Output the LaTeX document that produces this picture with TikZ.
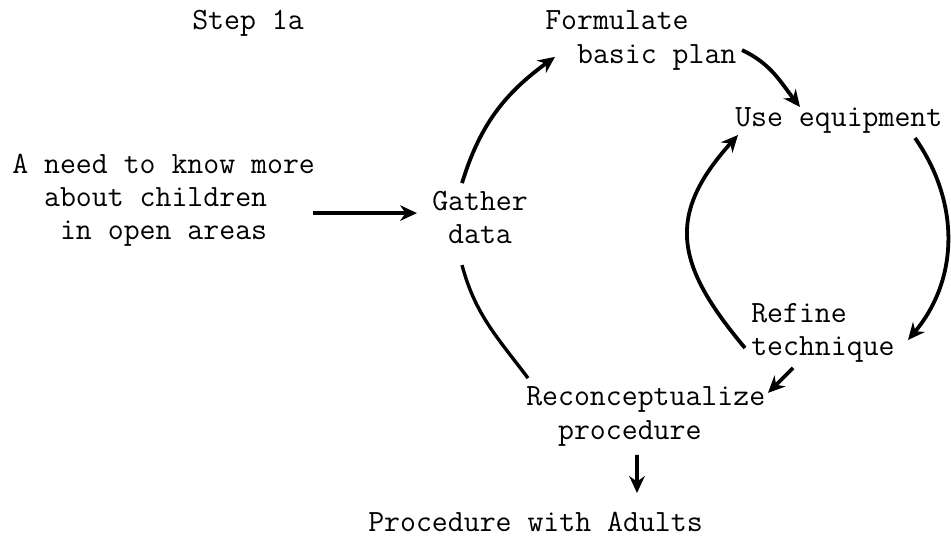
\documentclass[tikz,border=0pt]{standalone}
\usetikzlibrary{arrows.meta}
\tikzset{
  txt/.style={anchor=west, inner sep=0pt, align=left, font=\ttfamily\fontsize{22}{23.5}\selectfont},
  arrw/.style={line width=2.7pt, -{Stealth[length=12pt,width=11pt]}},
  bare/.style={line width=2.4pt},
}
\begin{document}
\begin{tikzpicture}
\useasboundingbox (0,0) rectangle (23.775,-13.55);

\node[txt] (step) at (4.8,-0.575) {Step 1a};
\node[txt] (need) at (0.3,-5.0) {A need to know more\\\phantom{ab}about children\\\phantom{abc}in open areas};
\node[txt] (gather) at (10.8,-5.4375) {Gather\\\phantom{a}data};
\node[txt] (plan) at (13.625,-1.0125) {Formulate\\\phantom{ab}basic plan};
\node[txt] (equip) at (18.375,-3.0) {Use equipment};
\node[txt] (refine) at (18.775,-8.325) {Refine\\technique};
\node[txt] (recon) at (13.15,-10.4125) {Reconceptualize\\\phantom{ab}procedure};
\node[txt] (adults) at (9.2,-13.05) {Procedure with Adults};

\draw[arrw] ([shift={(7.525,-0.325)}]need.west) -- ([shift={(-0.375,0.11)}]gather.west);
\draw[arrw] ([shift={(0.75,0.86)}]gather.west) to[out=73,in=216] ([shift={(0.25,-0.41)}]plan.west);
\draw[arrw] ([shift={(4.925,-0.24)}]plan.west) to[out=-25,in=128] ([shift={(1.625,0.325)}]equip.west);
\draw[arrw] ([shift={(4.5,-0.45)}]equip.west) to[out=-55,in=50] ([shift={(3.925,-0.175)}]refine.west);
\draw[arrw] ([shift={(-0.15,-0.375)}]refine.west) to[out=130,in=228,looseness=1.3] ([shift={(0.075,-0.375)}]equip.west);
\draw[arrw] ([shift={(1.05,-0.875)}]refine.west) -- ([shift={(6.05,0.59)}]recon.west);
\draw[bare] ([shift={(0.75,-1.19)}]gather.west) to[out=-75,in=127] ([shift={(0.05,0.96)}]recon.west);
\draw[arrw] ([shift={(2.775,-0.96)}]recon.west) -- ([shift={(6.725,0.725)}]adults.west);
\end{tikzpicture}
\end{document}
